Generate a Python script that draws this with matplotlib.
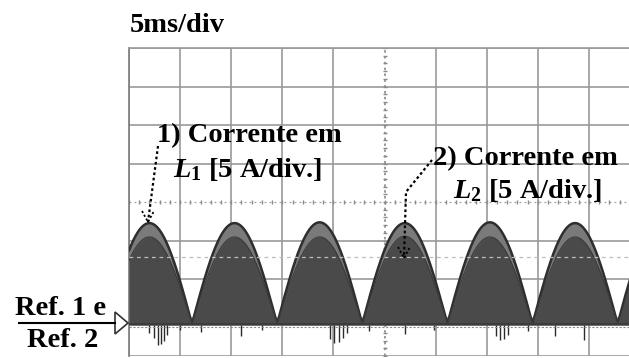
import numpy as np
import matplotlib
matplotlib.use("Agg")
import matplotlib.pyplot as plt
from matplotlib.patches import Polygon

plt.rcParams['font.family'] = ['Liberation Serif', 'DejaVu Serif']
plt.rcParams['mathtext.fontset'] = 'custom'
plt.rcParams['mathtext.rm'] = 'Liberation Serif:bold'
plt.rcParams['mathtext.it'] = 'Liberation Serif:bold:italic'

# scope settings (5 ms/div, 5 A/div)
ms_per_div = 5.0
a_per_div = 5.0
screen_ms = 50.0
y_top = 35.84       # top of screen [A]
y_bottom = -4.16    # bottom of screen [A]

# rectified waveform
period_ms = 8.33
first_zero_ms = 6.16
l1_peaks = [13.1, 13.1, 13.2, 13.1, 13.2, 13.1, 13.1]   # humps from left partial to right partial
l2_peaks = [11.3, 11.3, 11.3, 11.4, 11.3, 11.3, 11.3]
cursor_a = 8.7

# switching spikes below the reference line (time ms, depth A)
spike_t = [2.0, 2.4, 2.8, 3.1, 3.4, 3.7, 5.0, 7.0, 11.0, 13.0, 19.7, 20.1, 20.5, 20.9, 21.3,
           23.5, 27.0, 29.8, 35.9, 36.3, 36.7, 37.1, 39.0, 44.5, 41.7]
spike_d = [-1.2, -1.8, -2.7, -2.6, -2.2, -1.4, -0.8, -1.0, -1.5, -0.8, -2.0, -2.5, -2.3, -1.8, -1.2,
           -0.9, -1.3, -0.8, -1.6, -2.1, -2.0, -1.4, -0.9, -2.1, -1.5]

fig = plt.figure(figsize=(6.29, 3.58), dpi=100)
ax = fig.add_axes([129 / 629, 2 / 358, 511 / 629, 308 / 358])
ax.set_xlim(0, screen_ms)
ax.set_ylim(y_bottom, y_top)

# graticule
for k in range(11):
    if k == 5:
        continue
    ax.axvline(k * ms_per_div, color='#9a9a9a', lw=1.2, zorder=1)
for k in range(9):
    if k == 4:
        continue
    ax.axhline(y_bottom + k * a_per_div, color='#9a9a9a', lw=1.2, zorder=1)
yc = y_bottom + 4 * a_per_div
xc = 5 * ms_per_div
ax.axhline(yc, color='#a0a0a0', lw=0.9, ls=(0, (1.5, 2.5)), zorder=1)
ax.axvline(xc, color='#8a8a8a', lw=1.2, ls=(0, (1.5, 2.0)), zorder=1)
ax.plot(np.arange(0, screen_ms + 0.1, 1.0), np.full(51, yc), ls='none',
        marker='|', ms=3.5, color='#8a8a8a', mew=1, zorder=1)
ax.plot(np.full(41, xc), np.arange(y_bottom, y_top + 0.1, 1.0), ls='none',
        marker='_', ms=3.5, color='#8a8a8a', mew=1, zorder=1)

# waveforms
t = np.linspace(0, screen_ms + 2, 3000)
hump = np.floor((t - first_zero_ms) / period_ms).astype(int) + 1
hump = np.clip(hump, 0, len(l1_peaks) - 1)
shape = np.abs(np.sin(np.pi * (t - first_zero_ms) / period_ms))
i1 = np.array(l1_peaks)[hump] * shape
i2 = np.array(l2_peaks)[hump] * shape

ax.vlines(spike_t, 0, spike_d, color='#2a2a2a', lw=1.0, zorder=2)
ax.axhline(-0.35, color='#8a8a8a', lw=0.8, ls=(0, (2, 1.5)), zorder=2)
ax.fill_between(t, -0.15, i1, color='#7a7a7a', lw=0, zorder=3)
ax.plot(t, i1, color='#2e2e2e', lw=1.8, zorder=4)
ax.fill_between(t, -0.15, i2, color='#4a4a4a', lw=0, zorder=5)
ax.plot(t, i2, color='#3a3a3a', lw=0.8, zorder=5)
ax.axhline(0, color='#3a3a3a', lw=1.2, zorder=5)
ax.axhline(cursor_a, color='#bdbdbd', lw=0.9, ls=(0, (3, 3)), zorder=6)

ax.set_xticks([])
ax.set_yticks([])
for side in ['right', 'bottom']:
    ax.spines[side].set_visible(False)
ax.spines['top'].set_color('#9a9a9a')
ax.spines['left'].set_color('#7a7a7a')
ax.spines['top'].set_linewidth(1.2)
ax.spines['left'].set_linewidth(1.2)

# overlay in pixel coordinates for labels and arrows
ov = fig.add_axes([0, 0, 1, 1], zorder=10)
ov.set_xlim(0, 629)
ov.set_ylim(358, 0)
ov.axis('off')
ov.patch.set_alpha(0)

fs = 20.5
ov.text(130, 32, '5ms/div', fontsize=fs, fontweight='bold', va='baseline')
ov.text(157, 142, '1) Corrente em', fontsize=fs, fontweight='bold', va='baseline')
ov.text(173, 177, r'$L_1$ [5 A/div.]', fontsize=fs, fontweight='bold', va='baseline')
ov.text(433, 165, '2) Corrente em', fontsize=fs, fontweight='bold', va='baseline')
ov.text(453, 198, r'$L_2$ [5 A/div.]', fontsize=fs, fontweight='bold', va='baseline')
ov.text(15, 315, 'Ref. 1 e', fontsize=fs, fontweight='bold', va='baseline')
ov.text(27, 347, 'Ref. 2', fontsize=fs, fontweight='bold', va='baseline')

ov.plot([19, 115], [323, 323], color='black', lw=1.5)
ov.add_patch(Polygon([[115, 312], [128, 323], [115, 334]], closed=True,
                     facecolor='white', edgecolor='#333333', lw=1.2))

dot = (0, (1.2, 1.2))
ov.plot([158, 148], [146, 222], color='black', lw=1.6, ls=dot)
ov.plot([142, 148, 154], [211, 222, 211], color='black', lw=1.3, ls=dot)
ov.plot([432, 406, 404], [160, 192, 258], color='black', lw=1.6, ls=dot)
ov.plot([398, 404, 410], [247, 258, 247], color='black', lw=1.3, ls=dot)

fig.savefig('out.png', dpi=100)
